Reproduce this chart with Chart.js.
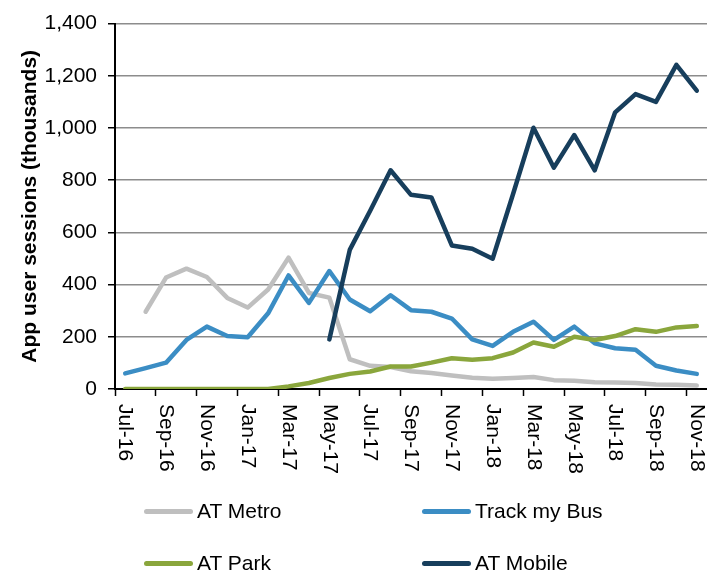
<!DOCTYPE html>
<html>
<head>
<meta charset="utf-8">
<script src="https://cdn.jsdelivr.net/npm/chart.js@4/dist/chart.umd.min.js"></script>
<style>
    body { margin: 0; background: #fff; }
    #wrap { position: relative; width: 707px; height: 575px; }
    #legend {
        position: absolute; left: 144px; top: 485px;
        display: grid; grid-template-columns: 278px 278px; grid-auto-rows: 52px;
        font: 21px "Liberation Sans", Arial, sans-serif; color: #000;
    }
    .item { display: flex; align-items: center; white-space: nowrap; }
    .swatch { width: 49px; height: 5px; border-radius: 3px; margin-right: 4px; }
</style>
</head>
<body>
<div id="wrap">
    <canvas id="chart" width="707" height="575"></canvas>
    <div id="legend"></div>
</div>
<script>
// --- data (thousands of sessions, monthly) ---
const months = ['Jul-16', 'Aug-16', 'Sep-16', 'Oct-16', 'Nov-16', 'Dec-16', 'Jan-17', 'Feb-17', 'Mar-17', 'Apr-17',
    'May-17', 'Jun-17', 'Jul-17', 'Aug-17', 'Sep-17', 'Oct-17', 'Nov-17', 'Dec-17', 'Jan-18', 'Feb-18',
    'Mar-18', 'Apr-18', 'May-18', 'Jun-18', 'Jul-18', 'Aug-18', 'Sep-18', 'Oct-18', 'Nov-18'];

const atMetro = [null, 296, 427, 461, 429, 349, 312, 381, 503, 368, 350, 114, 89, 84, 68,
    61, 52, 43, 39, 42, 46, 34, 32, 26, 25, 23, 17, 16, 13];
const trackMyBus = [60, 80, 101, 188, 239, 203, 198, 290, 435, 330, 452, 343, 298, 359, 302,
    296, 270, 190, 165, 219, 258, 188, 239, 175, 156, 150, 89, 71, 58];
const atPark = [0, 0, 0, 0, 0, 0, 0, 0, 10, 23, 42, 58, 67, 86, 86,
    101, 118, 112, 118, 140, 178, 162, 200, 188, 203, 229, 219, 236, 241];
const atMobile = [null, null, null, null, null, null, null, null, null, null, 190, 533, 683, 838, 744,
    734, 550, 537, 499, 747, 1001, 848, 973, 838, 1060, 1130, 1100, 1242, 1143];

const yTicks = [0, 200, 400, 600, 800, 1000, 1200, 1400];

const FONT = '"Liberation Sans", Arial, sans-serif';

// points sit in the middle of each month, ticks on month boundaries
function toPoints(values) {
    return values.map((v, i) => ({ x: i + 0.5, y: v }));
}

function series(label, values, color, order) {
    return {
        label: label,
        data: toPoints(values),
        borderColor: color,
        backgroundColor: color,
        borderWidth: 4.5,
        borderJoinStyle: 'round',
        borderCapStyle: 'round',
        pointRadius: 0,
        tension: 0,
        spanGaps: false,
        order: order
    };
}

// rotated (top-to-bottom) month labels under the x axis
const monthLabels = {
    id: 'monthLabels',
    afterDraw(chart) {
        const xs = chart.scales.x;
        const ctx = chart.ctx;
        ctx.save();
        ctx.font = '21px ' + FONT;
        ctx.fillStyle = '#000';
        ctx.textAlign = 'left';
        ctx.textBaseline = 'middle';
        xs.ticks.forEach(t => {
            const px = xs.getPixelForValue(t.value + 0.5);
            ctx.save();
            ctx.translate(px, xs.top + 15);
            ctx.rotate(Math.PI / 2);
            ctx.fillText(months[t.value], 0, 0);
            ctx.restore();
        });
        ctx.restore();
    }
};

const chart = new Chart(document.getElementById('chart'), {
    type: 'line',
    data: {
        datasets: [
            series('AT Metro', atMetro, '#BFBFBF', 3),
            series('Track my Bus', trackMyBus, '#3B8DC4', 2),
            series('AT Park', atPark, '#8AA63C', 1),
            series('AT Mobile', atMobile, '#173E5C', 0)
        ]
    },
    options: {
        responsive: false,
        animation: false,
        layout: { padding: { top: 21, right: 0, bottom: 0, left: 0 } },
        plugins: {
            legend: { display: false },
            tooltip: { enabled: false }
        },
        scales: {
            x: {
                type: 'linear',
                min: 0,
                max: months.length,
                afterFit: (scale) => { scale.height = 186; },
                ticks: { display: false, stepSize: 2, includeBounds: false, maxTicksLimit: 40 },
                grid: { drawOnChartArea: false, drawTicks: true, tickLength: 7, tickColor: '#000', tickWidth: 1.5 },
                border: { color: '#000', width: 2 }
            },
            y: {
                min: 0,
                max: 1400,
                afterFit: (scale) => { scale.width = 115; },
                afterBuildTicks: (scale) => { scale.ticks = yTicks.map(v => ({ value: v })); },
                ticks: {
                    padding: 11,
                    color: '#000',
                    font: { family: FONT, size: 21 },
                    callback: (v) => v.toLocaleString('en-US')
                },
                grid: { color: '#8c8c8c', lineWidth: 1.5, tickLength: 7, tickColor: '#000', tickWidth: 1.5 },
                border: { color: '#000', width: 2 },
                title: {
                    display: true,
                    text: 'App user sessions (thousands)',
                    color: '#000',
                    font: { family: FONT, size: 21, weight: 'bold' },
                    padding: { top: 18, bottom: 0 }
                }
            }
        }
    },
    plugins: [monthLabels]
});

// HTML legend, two columns like the original
const legendEl = document.getElementById('legend');
chart.data.datasets.forEach(ds => {
    const item = document.createElement('div');
    item.className = 'item';
    item.innerHTML = `<span class="swatch" style="background:${ds.borderColor}"></span><span>${ds.label}</span>`;
    legendEl.appendChild(item);
});
</script>
</body>
</html>
